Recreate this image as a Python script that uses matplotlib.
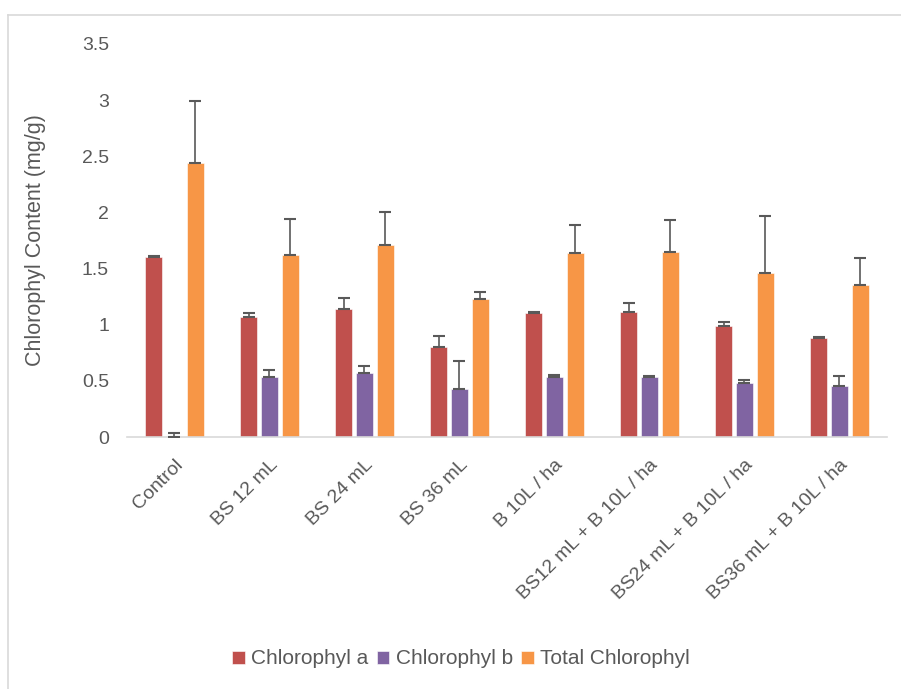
import matplotlib
matplotlib.use("Agg")
import matplotlib.pyplot as plt
import numpy as np
from matplotlib.lines import Line2D

categories = ["Control", "BS 12 mL", "BS 24 mL", "BS 36 mL", "B 10L / ha",
              "BS12 mL + B 10L / ha", "BS24 mL + B 10L / ha", "BS36 mL + B 10L / ha"]
chl_a = [1.60, 1.07, 1.14, 0.80, 1.10, 1.11, 0.99, 0.88]
chl_a_err = [0.01, 0.03, 0.10, 0.10, 0.01, 0.08, 0.03, 0.01]
chl_b = [0.00, 0.53, 0.57, 0.43, 0.53, 0.53, 0.48, 0.45]
chl_b_err = [0.04, 0.07, 0.06, 0.25, 0.02, 0.01, 0.03, 0.09]
total = [2.44, 1.62, 1.71, 1.23, 1.64, 1.65, 1.46, 1.35]
total_err = [0.55, 0.32, 0.29, 0.06, 0.25, 0.28, 0.51, 0.24]
series = ["Chlorophyl a", "Chlorophyl b", "Total Chlorophyl"]
colors = ["#C0504D", "#8064A2", "#F79646"]

plt.rcParams["font.family"] = ["Liberation Sans", "DejaVu Sans"]
txt = "#595959"

fig = plt.figure(figsize=(9.01, 6.89), dpi=100)
ax = fig.add_axes([127 / 901, 1 - 437 / 689, 760 / 901, 393 / 689])

# outer chart border (Excel style)
fig.add_artist(Line2D([8 / 901, 1], [1 - 15 / 689] * 2, color="#d9d9d9", lw=1.2))
fig.add_artist(Line2D([8 / 901] * 2, [0, 1 - 15 / 689], color="#d9d9d9", lw=1.2))

x = np.arange(len(categories))
width = 0.18
step = 0.22
for i, (vals, errs) in enumerate([(chl_a, chl_a_err), (chl_b, chl_b_err), (total, total_err)]):
    pos = x + (i - 1) * step
    ax.bar(pos, vals, width, color=colors[i], edgecolor="white", linewidth=0.4,
           label=series[i], zorder=2)
    # plus-only error bars, Excel style
    ax.errorbar(pos, vals, yerr=[np.zeros(len(errs)), errs], fmt="none",
                ecolor="#595959", elinewidth=1.2, capsize=4, capthick=1.5, zorder=3)

ax.set_xlim(-0.5, len(categories) - 0.5)
ax.set_ylim(0, 3.5)
ax.set_yticks(np.arange(0, 3.51, 0.5))
ax.set_yticklabels(["0", "0.5", "1", "1.5", "2", "2.5", "3", "3.5"])
ax.set_xticks(x)
ax.set_xticklabels(categories, rotation=45, ha="right", rotation_mode="anchor")
for s in ["top", "right", "left"]:
    ax.spines[s].set_visible(False)
ax.spines["bottom"].set_color("#d9d9d9")
ax.spines["bottom"].set_linewidth(1.2)
ax.tick_params(axis="both", length=0, colors=txt, labelsize=14)
ax.tick_params(axis="y", pad=13)
ax.tick_params(axis="x", pad=14)
ax.set_ylabel("Chlorophyl Content (mg/g)", color=txt, fontsize=15.5, labelpad=26)

ax.legend(loc="center", bbox_to_anchor=((461 - 127) / 760, (437 - 659) / 393),
          ncol=3, frameon=False, fontsize=15, labelcolor=txt,
          handlelength=0.6, handleheight=0.6, handletextpad=0.3, columnspacing=0.4)

fig.savefig("out.png", dpi=100)
